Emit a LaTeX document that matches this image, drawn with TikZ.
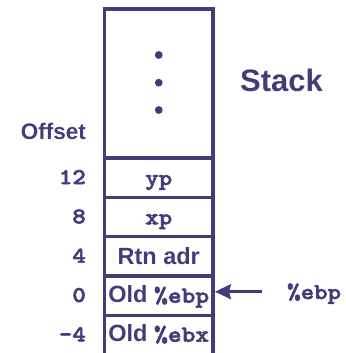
\documentclass[tikz,border=0pt]{standalone}
\usepackage{fontspec}
\setmainfont{Liberation Sans}
\newfontfamily\codefont{lmmonolt10-bold.otf}[FakeStretch=1.14, FakeBold=2.5]
\usetikzlibrary{arrows.meta}
\definecolor{ink}{RGB}{72,58,122}

\tikzset{
  frame/.style={draw=ink, line width=3.2pt},
  label/.style={text=ink, font=\fontsize{23.5}{28}\selectfont\bfseries, inner sep=0pt},
  mono/.style={label, font=\fontsize{22.5}{27}\selectfont\codefont},
  offset/.style={mono, anchor=base east},
  cell/.style={label, anchor=base},
  pointer/.style={draw=ink, line width=2.6pt, -{Stealth[length=16pt,width=15pt,inset=2pt]}}
}
\newcommand{\code}[1]{{\fontsize{23}{27}\selectfont\codefont #1}}

\begin{document}
\begin{tikzpicture}[x=1pt,y=-1pt]
  \useasboundingbox (0,0) rectangle (345,353);

  % stack outline, open at the bottom
  \draw[frame] (104.5,353) -- (104.5,9) -- (213,9) -- (213,353);
  \foreach \yy in {158,197.3,236.7,276,315.3}
    \draw[frame] (104.5,\yy) -- (213,\yy);

  % ellipsis in the upper part of the stack
  \foreach \yy in {55,82.7,110}
    \fill[ink] (158.75,\yy) circle (3.9);

  % titles
  \node[label, anchor=base west, font=\fontsize{31}{36}\selectfont\bfseries] (title) at (240,91) {Stack};
  \node[label, anchor=base east, font=\fontsize{22.5}{27}\selectfont\bfseries] (offsethead) at (86,139) {Offset};

  % offsets
  \node[offset] (off12) at (86,184) {12};
  \node[offset] (off8)  at (86,223.3) {8};
  \node[offset] (off4)  at (86,262.7) {4};
  \node[offset] (off0)  at (86,302) {0};
  \node[offset] (offm4) at (86,341.3) {-4};

  % cell contents
  \node[cell, mono] (yp) at (158.75,185) {yp};
  \node[cell, mono] (xp) at (158.75,224.3) {xp};
  \node[cell] (rtn) at (158.75,264.7) {Rtn adr};
  \node[cell] (oldebp) at (158.75,302.7) {Old \code{\%ebp}};
  \node[cell] (oldebx) at (158.75,341.7) {Old \code{\%ebx}};

  % frame pointer
  \node[mono, anchor=base west] (ebp) at (287,299) {\%ebp};
  \coordinate (ebptail) at (262,291.7);
  \coordinate (ebptip) at (215,291.7);
  \draw[pointer] (ebptail) -- (ebptip);
\end{tikzpicture}
\end{document}
